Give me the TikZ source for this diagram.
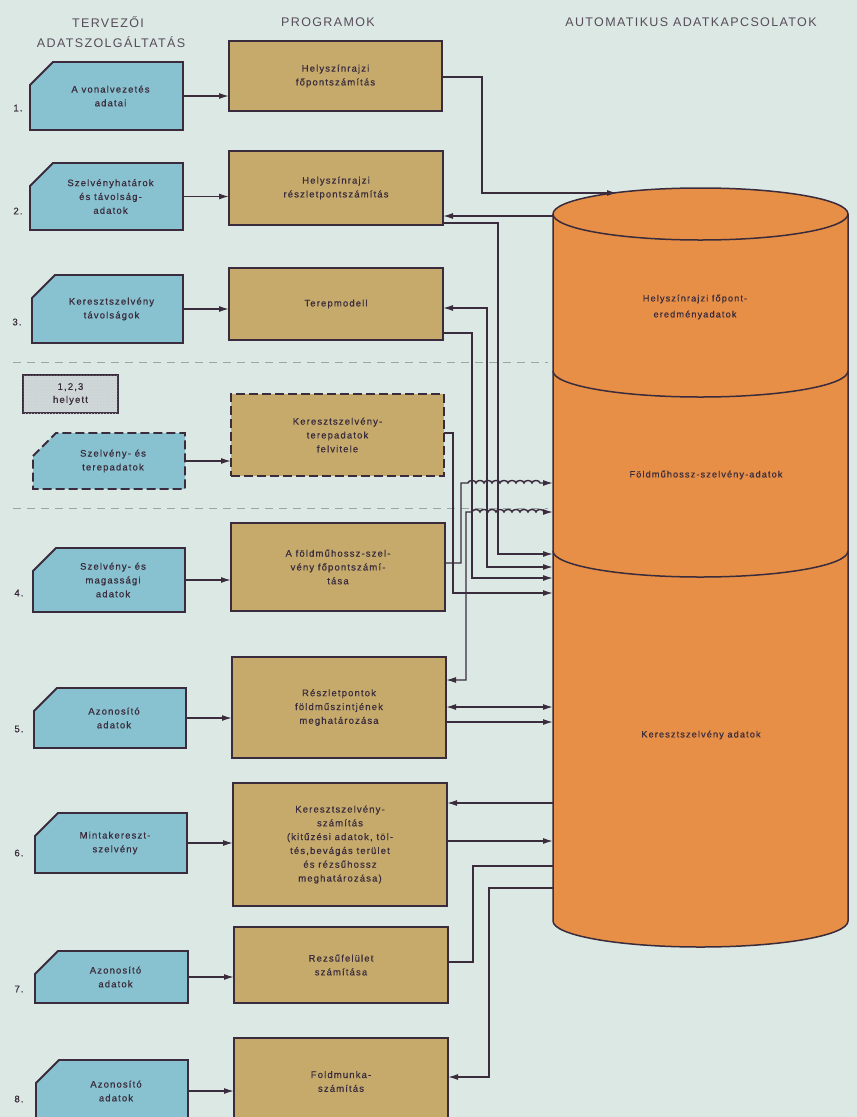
\documentclass[tikz,border=0pt]{standalone}
\usepackage{fontspec}
\setmainfont{Liberation Sans}
\newfontfamily\headfont[LetterSpace=11]{Liberation Sans}
\newfontfamily\boxfont[LetterSpace=12,FakeBold=0.5]{Liberation Sans}
\usetikzlibrary{arrows.meta,calc,patterns}

\definecolor{paper}{HTML}{DCE8E4}
\definecolor{cardblue}{HTML}{88C1CF}
\definecolor{progtan}{HTML}{C5AA6C}
\definecolor{dborange}{HTML}{E78F47}
\definecolor{ink}{HTML}{3A2C3C}
\definecolor{sepgray}{HTML}{9AA6A6}
\definecolor{notegray}{HTML}{CFD8D9}

\tikzset{
  head/.style={inner sep=0pt, font=\headfont\fontsize{12.5pt}{15pt}\selectfont, text=ink!85},
  cardshape/.style={fill=cardblue, draw=ink, line width=1.8pt, line join=miter},
  cardbox/.style={inner sep=0pt, outer sep=0pt},
  cardtext/.style={inner sep=0pt, align=center, font=\boxfont\fontsize{9.5pt}{13.8pt}\selectfont, text=ink},
  prog/.style={draw=ink, fill=progtan, line width=1.8pt, inner sep=0pt, outer sep=0pt,
    align=center, font=\boxfont\fontsize{9.5pt}{13.8pt}\selectfont, text=ink},
  dashedline/.style={dash pattern=on 9pt off 4pt},
  numlabel/.style={inner sep=0pt, font=\boxfont\fontsize{9.5pt}{11pt}\selectfont, text=ink},
  dbtext/.style={inner sep=0pt, align=center, font=\boxfont\fontsize{9.2pt}{16pt}\selectfont, text=ink},
  link/.style={draw=ink, line width=1.4pt},
  fwd/.style={-{Latex[length=10pt,width=6pt]}},
  both/.style={{Latex[length=10pt,width=6pt]}-{Latex[length=10pt,width=6pt]}},
}

% input card with a cut top-left corner: [options]{name}{x1}{y1}{x2}{y2}{text}
\newcommand\carddraw[7][]{%
  \path[cardshape,#1] (#3,{#4+23}) -- ({#3+23},#4) -- (#5,#4) -- (#5,#6) -- (#3,#6) -- cycle;
  \node[cardbox, minimum width={#5-#3}, minimum height={#6-#4},
        label={[cardtext,xshift=4pt]center:{#7}}] (#2) at ({(#3+#5)/2},{(#4+#6)/2}) {};
}

\begin{document}
\begin{tikzpicture}[x=1pt,y=-1pt]
\useasboundingbox (0,0) rectangle (857,1117);
\clip (0,0) rectangle (857,1117);
\fill[paper] (0,0) rectangle (857,1117);

% column headings
\node[head] (h1) at (108,22) {TERVEZŐI};
\node[head] (h2) at (111,42) {ADATSZOLGÁLTATÁS};
\node[head] (h3) at (328,22) {PROGRAMOK};
\node[head] (h4) at (691,22) {AUTOMATIKUS ADATKAPCSOLATOK};

% separators around the optional input
\draw[sepgray, line width=1pt, dash pattern=on 8pt off 6pt] (13,362) -- (548,362);
\draw[sepgray, line width=1pt, dash pattern=on 8pt off 6pt] (13,508) -- (548,508);

% database cylinder
\filldraw[fill=dborange, draw=ink, line width=1.5pt]
  (553,214) -- (553,921) arc[start angle=180, end angle=360, x radius=147.5pt, y radius=26pt]
  -- (848,214) arc[start angle=0, end angle=180, x radius=147.5pt, y radius=26pt] -- cycle;
\foreach \yy in {214,371,551}
  \draw[ink, line width=1.5pt] (553,\yy) arc[start angle=180, end angle=360, x radius=147.5pt, y radius=26pt];
\node[cardbox, minimum width=295, minimum height=707] (db) at (700.5,567.5) {};
\coordinate (dbtop) at (617,193);
\node[dbtext] (t1) at (695,307) {Helyszínrajzi főpont-\\eredményadatok};
\node[dbtext] (t2) at (706,475) {Földműhossz-szelvény-adatok};
\node[dbtext] (t3) at (701,735) {Keresztszelvény adatok};

% input cards
\carddraw{c1}{30}{62}{183}{130}{A vonalvezetés\\adatai}
\carddraw{c2}{30}{163}{183}{230}{Szelvényhatárok\\és távolság-\\adatok}
\carddraw{c3}{32}{275}{183}{343}{Keresztszelvény\\távolságok}
\carddraw[dashedline]{cd}{33}{433}{185}{489}{Szelvény- és\\terepadatok}
\carddraw{c4}{33}{548}{185}{612}{Szelvény- és\\magassági\\adatok}
\carddraw{c5}{34}{688}{186}{748}{Azonosító\\adatok}
\carddraw{c6}{35}{813}{187}{873}{Mintakereszt-\\szelvény}
\carddraw{c7}{35}{951}{188}{1003}{Azonosító\\adatok}
\carddraw{c8}{36}{1060}{188}{1122}{Azonosító\\adatok}

% numbering
\node[numlabel] (n1) at (18,108) {1.};
\node[numlabel] (n2) at (18,211) {2.};
\node[numlabel] (n3) at (17,322) {3.};
\node[numlabel] (n4) at (19,593) {4.};
\node[numlabel] (n5) at (19,729) {5.};
\node[numlabel] (n6) at (19,853) {6.};
\node[numlabel] (n7) at (19,989) {7.};
\node[numlabel] (n8) at (19,1099) {8.};

% substitute note
\node[draw=ink, line width=1.4pt, fill=notegray,
      postaction={pattern=crosshatch dots, pattern color=ink!25},
      minimum width=95, minimum height=38, inner sep=0pt, align=center,
      font=\boxfont\fontsize{9.5pt}{13pt}\selectfont, text=ink] (note) at (70.5,394) {1,2,3\\helyett};

% programs
\node[prog, minimum width=213, minimum height=70]  (p1) at (335.5,76)   {Helyszínrajzi\\főpontszámítás};
\node[prog, minimum width=214, minimum height=74]  (p2) at (336,188)    {Helyszínrajzi\\részletpontszámítás};
\node[prog, minimum width=214, minimum height=72]  (p3) at (336,304)    {Terepmodell};
\node[prog, dashedline, minimum width=213, minimum height=82] (pd) at (337.5,435) {Keresztszelvény-\\terepadatok\\felvitele};
\node[prog, minimum width=214, minimum height=88]  (p4) at (338,567)    {A földműhossz-szel-\\vény főpontszámí-\\tása};
\node[prog, minimum width=214, minimum height=101] (p5) at (339,707.5)  {Részletpontok\\földműszintjének\\meghatározása};
\node[prog, minimum width=214, minimum height=123] (p6) at (340,844.5)  {Keresztszelvény-\\számítás\\(kitűzési adatok, töl-\\tés,bevágás terület\\és rézsűhossz\\meghatározása)};
\node[prog, minimum width=214, minimum height=76]  (p7) at (341,965)    {Rezsűfelület\\számítása};
\node[prog, minimum width=214, minimum height=87]  (p8) at (341,1081.5) {Foldmunka-\\számítás};

% inputs into programs
\foreach \c/\p in {c1/p1,c2/p2,c3/p3,cd/pd,c4/p4,c5/p5,c6/p6,c7/p7,c8/p8}
  \draw[link,fwd] (\c.east) -- (\c.east -| \p.west);

% data links between programs and the database
\draw[link,fwd] (p1.east |- 0,77) -| (482,193) -- (dbtop);
\draw[link,fwd] (db.west |- 0,216) -- (p2.east |- 0,216);
\draw[link,fwd] (p2.east |- 0,223) -| (498,554) -- (db.west |- 0,554);
\draw[link,both] (db.west |- 0,567) -| (487,308) -- (p3.east |- 0,308);
\draw[link,fwd] (p3.east |- 0,333) -| (472,578) -- (db.west |- 0,578);
\draw[link,fwd] (pd.east |- 0,433) -| (453,593) -- (db.west |- 0,593);
\draw[link,fwd] (p4.east |- 0,563) -| (461,483) -- (468,483)
  \foreach \i in {1,...,9} { arc[start angle=180, end angle=0, x radius=4pt, y radius=2.5pt] }
  -- (db.west |- 0,483);
\draw[link,both] (p5.east |- 0,680) -| (466,512) -- (472,512)
  \foreach \i in {1,...,9} { arc[start angle=180, end angle=0, x radius=4pt, y radius=2.5pt] }
  -- (db.west |- 0,512);
\draw[link,both] (p5.east |- 0,707) -- (db.west |- 0,707);
\draw[link,fwd] (p5.east |- 0,722) -- (db.west |- 0,722);
\draw[link,fwd] (db.west |- 0,803) -- (p6.east |- 0,803);
\draw[link,fwd] (p6.east |- 0,841) -- (db.west |- 0,841);
\draw[link] (p7.east |- 0,962) -| (473,866) -- (db.west |- 0,866);
\draw[link,fwd] (db.west |- 0,888) -| (489,1077) -- (p8.east |- 0,1077);
\end{tikzpicture}
\end{document}
